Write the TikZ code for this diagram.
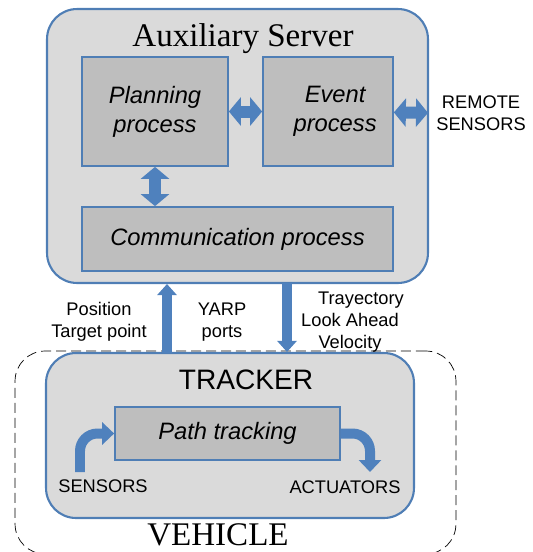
\documentclass[tikz,border=0pt]{standalone}
\usepackage{fontspec}
\setmainfont{Liberation Serif}
\setsansfont{Liberation Sans}
\usetikzlibrary{arrows.meta, positioning}

\definecolor{boxblue}{RGB}{79,126,181}
\definecolor{arrowblue}{RGB}{79,129,189}
\definecolor{outerfill}{RGB}{218,218,218}
\definecolor{innerfill}{RGB}{190,190,190}

\begin{document}
\begin{tikzpicture}[x=0.02cm, y=-0.02cm]
		\tikzstyle{Outer} = [rectangle, rounded corners=0.6cm, draw=boxblue, line width=1.2pt, fill=outerfill]
		\tikzstyle{Proc} = [rectangle, draw=boxblue, line width=1pt, fill=innerfill, align=center, font=\sffamily\itshape\fontsize{13.5}{16.5}\selectfont]
		\tikzstyle{Note} = [align=center, inner sep=0pt, font=\sffamily\fontsize{10.4}{12.5}\selectfont]
		\tikzstyle{Title} = [inner sep=0pt, font=\fontsize{18.8}{20}\selectfont]
		\tikzstyle{BigArrow} = [line width=0.24cm, arrowblue, >={Triangle[width=0.56cm,length=0.24cm]}]
		\tikzstyle{LinkArrow} = [line width=0.2cm, arrowblue, >={Triangle[width=0.38cm,length=0.22cm]}]
		\tikzstyle{BendArrow} = [line width=0.2cm, arrowblue, rounded corners=0.35cm, >={Triangle[width=0.44cm,length=0.24cm]}]
		
		\useasboundingbox (0,0) rectangle (533,552);
		
		% auxiliary server
		\node (aux) [Outer, minimum width=7.62cm, minimum height=5.48cm] at (237.5,146) {};
		\node (auxtitle) [Title] at (243,39) {Auxiliary Server};
		\node (plan) [Proc, minimum width=2.92cm, minimum height=2.18cm] at (155,111.5) {Planning\\process};
		\node (event) [Proc, minimum width=2.6cm, minimum height=2.18cm] at (328,111.5) {\hspace*{0.6em}Event\\\hspace*{0.6em}process};
		\node (comm) [Proc, minimum width=6.22cm, minimum height=1.28cm] at (237.5,239) {Communication process};
		\node (remote) [Note, anchor=west] at (436,113) {REMOTE\\SENSORS};
		
		\draw [BigArrow, <->] (plan) -- (event);
		\draw [BigArrow, <->, shorten >=0.16cm] (event) -- (remote.west);
		\draw [BigArrow, <->] (plan.south) -- (plan.south |- comm.north);
		
		% vehicle
		\node (vehicle) [rectangle, rounded corners=0.6cm, draw=black, dash pattern=on 0.2cm off 0.1cm, minimum width=8.82cm, minimum height=4.06cm] at (235.5,452.5) {};
		\node (vtitle) [Title] at (218,535) {VEHICLE};
		\node (tracker) [Outer, minimum width=7.36cm, minimum height=3.3cm] at (230,435.5) {};
		\node (ttitle) [Note, font=\sffamily\fontsize{16}{18}\selectfont] at (246,380) {TRACKER};
		\node (path) [Proc, minimum width=4.5cm, minimum height=1.06cm] at (227.5,433.5) {Path tracking};
		\node (sensors) [Note] at (103,486) {SENSORS};
		\node (actuators) [Note] at (345,487) {ACTUATORS};
		
		\coordinate (sstart) at (80,472);
		\coordinate (aend) at (370,472);
		\draw [BendArrow, ->] (sstart) |- (path.west);
		\draw [BendArrow, ->] (path.east) -| (aend);
		
		% links between server and tracker
		\coordinate (upfoot) at (167,353);
		\coordinate (downtop) at (287,283);
		\draw [LinkArrow, ->] (upfoot) -- (upfoot |- aux.south);
		\draw [LinkArrow, ->] (downtop) -- (downtop |- tracker.north);
		\node (pos) [Note] at (99,322) {Position\\Target point};
		\node (yarp) [Note] at (222,322) {YARP\\ports};
		\node (traj) [Note] at (350,322) {\hspace*{1.2em}Trayectory\\Look Ahead\\Velocity};
		
\end{tikzpicture}
\end{document}
